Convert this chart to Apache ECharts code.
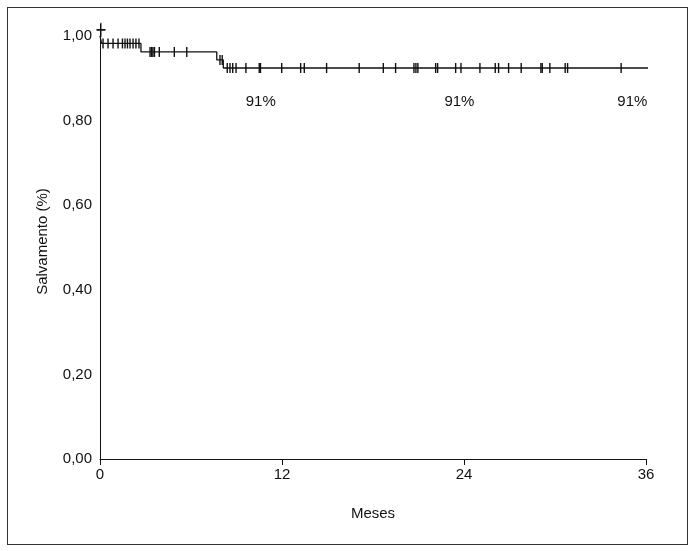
<!DOCTYPE html>
<html>
<head>
<meta charset="utf-8">
<script src="https://cdn.jsdelivr.net/npm/echarts@6/dist/echarts.min.js"></script>
<style>
  html, body { margin: 0; padding: 0; background: #fff; }
  #chart { position: absolute; left: 0; top: 0; width: 695px; height: 551px; }
  #frame { position: absolute; left: 7px; top: 7px; width: 679px; height: 536px; border: 1px solid #333; }
</style>
</head>
<body>
<div id="frame"></div>
<div id="chart"></div>
<script>
// curva de Kaplan-Meier (tempo em meses, sobrevida)
var stepTimes = [0, 0.1, 2.7, 7.7, 8.13, 36.8];
var stepValues = [1.0, 0.982, 0.962, 0.943, 0.924, 0.924];
// censuras
var censorTimes = [
  0.2, 0.53, 0.86, 1.19, 1.48, 1.65, 1.81, 1.98, 2.18, 2.37, 2.57,
  3.30, 3.40, 3.49, 3.59, 3.91, 4.90, 5.72,
  7.91, 8.06,
  8.39, 8.57, 8.75, 8.97, 9.62, 10.50, 10.58, 11.98, 13.23, 13.47, 14.94,
  17.09, 18.68, 19.49, 20.70, 20.83, 20.96, 22.13, 22.26, 23.45, 23.80,
  25.05, 26.06, 26.28, 26.94, 27.77, 29.07, 29.16, 29.66, 30.67, 30.83, 34.36
];
// textos 91%
var noteTimes = [10.6, 23.7, 35.1];
var noteValues = [0.844, 0.844, 0.844];
var noteText = ['91%', '91%', '91%'];

//valor da curva num tempo
function survAt(t) {
  var v = stepValues[0];
  for (var i = 0; i < stepTimes.length; i++) {
    if (stepTimes[i] <= t) v = stepValues[i];
  }
  return v;
}

var lineData = [];
for (var i = 0; i < stepTimes.length; i++) lineData.push([stepTimes[i], stepValues[i]]);
var censorData = [];
for (var j = 0; j < censorTimes.length; j++) censorData.push([censorTimes[j], survAt(censorTimes[j])]);
var noteData = [];
for (var k = 0; k < noteTimes.length; k++) noteData.push([noteTimes[k], noteValues[k], noteText[k]]);

var myChart = echarts.init(document.getElementById('chart'));
var font = 'Liberation Sans, Arial, sans-serif';
var option = {
  animation: false,
  grid: { left: 100, right: 49, top: 24, bottom: 92 },
  xAxis: {
    type: 'value',
    min: 0,
    max: 36,
    interval: 12,
    name: 'Meses',
    nameLocation: 'middle',
    nameGap: 47,
    nameTextStyle: { color: '#111', fontSize: 15, fontFamily: font },
    axisLine: { lineStyle: { color: '#111', width: 1 } },
    axisTick: { show: true, length: 6, lineStyle: { color: '#111' } },
    axisLabel: { color: '#111', fontSize: 15, fontFamily: font, margin: 8 },
    splitLine: { show: false }
  },
  yAxis: {
    type: 'value',
    min: 0,
    max: 1.028,
    interval: 0.2,
    name: 'Salvamento (%)',
    nameLocation: 'middle',
    nameGap: 50,
    nameTextStyle: { color: '#111', fontSize: 15, fontFamily: font },
    axisLine: { show: true, lineStyle: { color: '#111', width: 1 } },
    axisTick: { show: false },
    axisLabel: {
      color: '#111', fontSize: 15, fontFamily: font, margin: 8, showMaxLabel: false,
      formatter: function (v) { return v.toFixed(2).replace('.', ','); }
    },
    splitLine: { show: false }
  },
  series: [
    {
      type: 'line',
      step: 'end',
      data: lineData,
      symbol: 'none',
      clip: false,
      lineStyle: { color: '#111', width: 1.3 }
    },
    {
      type: 'scatter',
      data: censorData,
      symbol: 'rect',
      symbolSize: [1.4, 10],
      clip: false,
      itemStyle: { color: '#111', opacity: 1 }
    },
    {
      type: 'scatter',
      data: [[0, 1.0]],
      symbol: 'path://M4,0 L5,0 L5,4 L9,4 L9,5 L5,5 L5,9 L4,9 L4,5 L0,5 L0,4 L4,4 Z',
      symbolSize: [9, 14],
      symbolOffset: [1, -6],
      clip: false,
      itemStyle: { color: '#111', opacity: 1 }
    },
    {
      type: 'scatter',
      data: noteData,
      symbolSize: 0,
      itemStyle: { opacity: 1 },
      label: {
        show: true,
        position: 'inside',
        formatter: function (p) { return p.data[2]; },
        color: '#111',
        fontSize: 15,
        fontFamily: font
      }
    }
  ]
};
myChart.setOption(option);
</script>
</body>
</html>
